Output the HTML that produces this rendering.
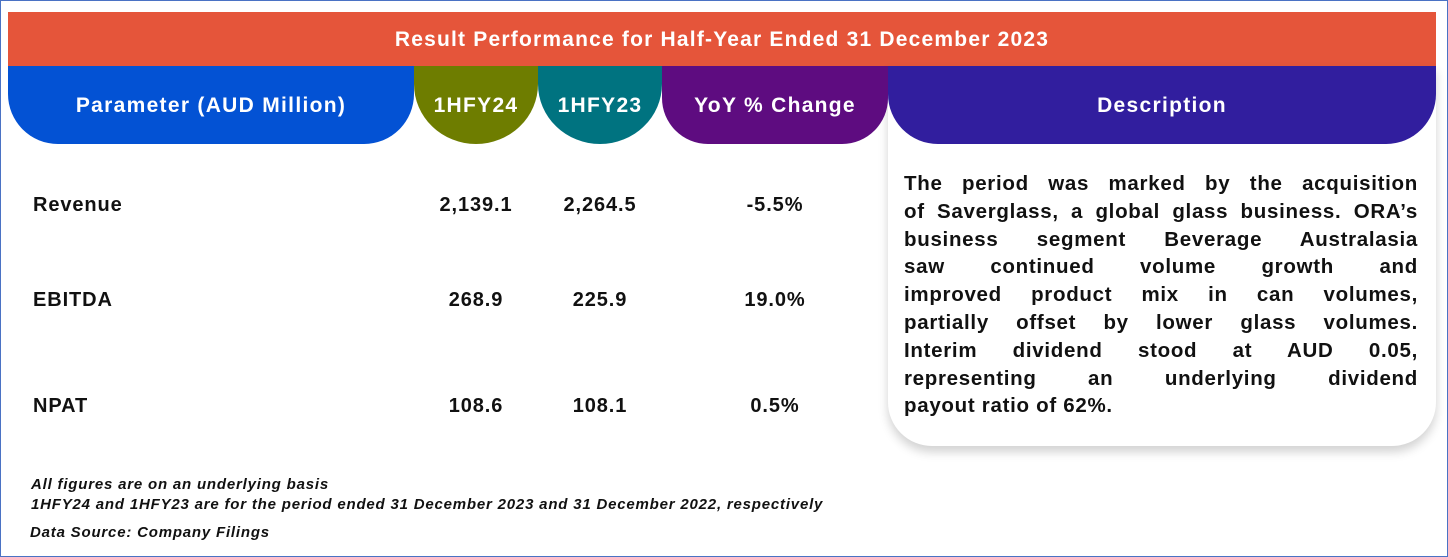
<!DOCTYPE html>
<html><head><meta charset="utf-8"><style>
*{margin:0;padding:0;box-sizing:border-box}
body{width:1448px;height:557px;background:#fff;font-family:"Liberation Sans",sans-serif;position:relative;overflow:hidden}
.frame{position:absolute;left:0;top:0;width:1448px;height:557px;border:1.5px solid #4a72c4}
.banner{position:absolute;left:8px;top:12px;width:1428px;height:55px;background:#E5553A;color:#fff;font-weight:bold;font-size:21px;letter-spacing:1.2px;text-align:center;line-height:55px}
.h{position:absolute;top:66px;height:78px;color:#fff;font-weight:bold;font-size:21px;letter-spacing:1.3px;display:flex;align-items:center;justify-content:center;padding-top:2px}
.card{position:absolute;left:888px;top:66px;width:548px;height:380px;background:#fff;border-radius:0 0 44px 44px;box-shadow:0 6px 10px rgba(0,0,0,0.18)}
.cell{position:absolute;font-weight:bold;font-size:20px;letter-spacing:0.9px;color:#111;text-align:center}
.desc{position:absolute;left:904px;top:170px;width:514px;font-weight:bold;font-size:20.5px;letter-spacing:0.7px;line-height:27.8px;color:#111}
.desc div{text-align:justify;text-align-last:justify;white-space:nowrap}
.desc div.last{text-align-last:left}
.note{position:absolute;left:31px;font-style:italic;font-weight:bold;font-size:15px;letter-spacing:0.8px;color:#111;white-space:nowrap}
</style></head><body>
<div class="frame"></div>
<div class="banner">Result Performance for Half-Year Ended 31 December 2023</div>
<div class="card"></div>
<div class="h" style="left:8px;width:406px;background:#0352D4;border-radius:0 0 50px 50px">Parameter (AUD Million)</div>
<div class="h" style="left:414px;width:124px;background:#6E7D00;border-radius:0 0 62px 62px/0 0 60px 60px">1HFY24</div>
<div class="h" style="left:538px;width:124px;background:#007380;border-radius:0 0 62px 62px/0 0 60px 60px">1HFY23</div>
<div class="h" style="left:662px;width:226px;background:#5E0C80;border-radius:0 0 46px 46px">YoY % Change</div>
<div class="h" style="left:888px;width:548px;background:#311E9E;border-radius:0 0 50px 50px">Description</div>

<div class="cell" style="left:33px;top:194px;text-align:left">Revenue</div>
<div class="cell" style="left:414px;width:124px;top:194px">2,139.1</div>
<div class="cell" style="left:538px;width:124px;top:194px">2,264.5</div>
<div class="cell" style="left:662px;width:226px;top:194px">-5.5%</div>

<div class="cell" style="left:33px;top:289px;text-align:left">EBITDA</div>
<div class="cell" style="left:414px;width:124px;top:289px">268.9</div>
<div class="cell" style="left:538px;width:124px;top:289px">225.9</div>
<div class="cell" style="left:662px;width:226px;top:289px">19.0%</div>

<div class="cell" style="left:33px;top:395px;text-align:left">NPAT</div>
<div class="cell" style="left:414px;width:124px;top:395px">108.6</div>
<div class="cell" style="left:538px;width:124px;top:395px">108.1</div>
<div class="cell" style="left:662px;width:226px;top:395px">0.5%</div>

<div class="desc">
<div>The period was marked by the acquisition</div>
<div>of Saverglass, a global glass business. ORA’s</div>
<div>business segment Beverage Australasia</div>
<div>saw continued volume growth and</div>
<div>improved product mix in can volumes,</div>
<div>partially offset by lower glass volumes.</div>
<div>Interim dividend stood at AUD 0.05,</div>
<div>representing an underlying dividend</div>
<div class="last">payout ratio of 62%.</div>
</div>

<div class="note" style="top:476px">All figures are on an underlying basis</div>
<div class="note" style="top:496px">1HFY24 and 1HFY23 are for the period ended 31 December 2023 and 31 December 2022, respectively</div>
<div class="note" style="top:524px;left:30px">Data Source: Company Filings</div>
</body></html>
